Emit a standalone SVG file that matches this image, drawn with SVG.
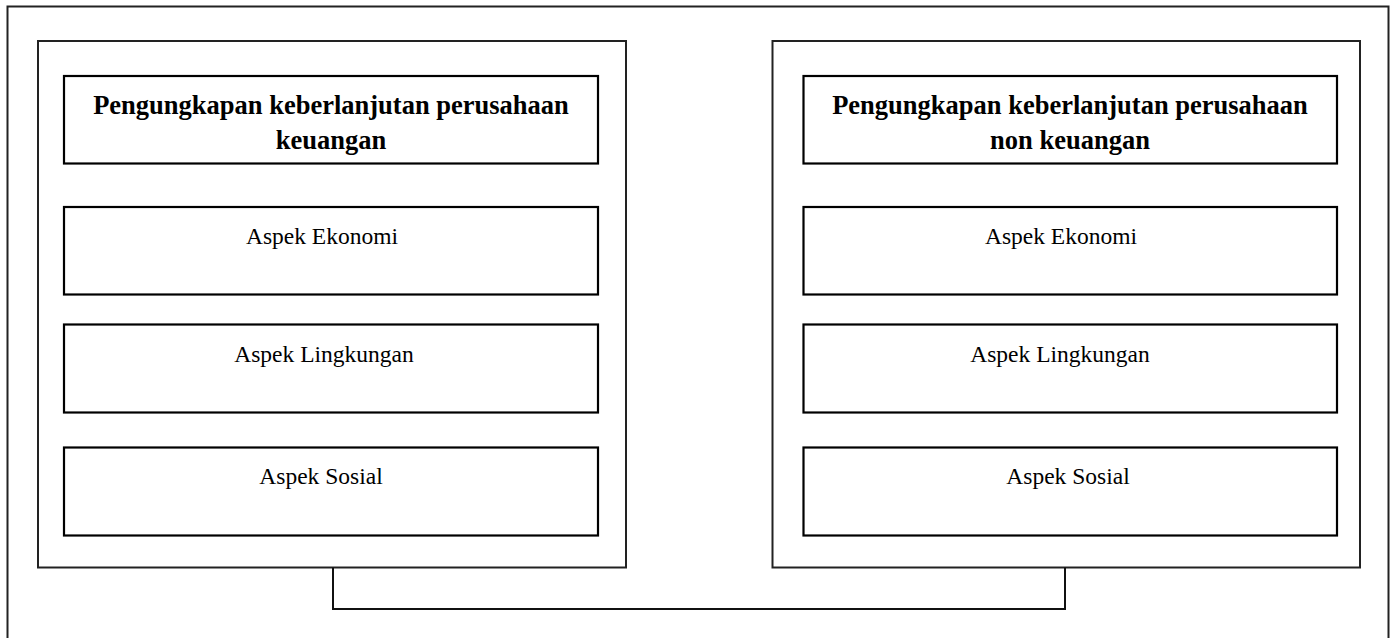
<svg xmlns="http://www.w3.org/2000/svg" width="1392" height="638" viewBox="0 0 1392 638">
<style>
.frame{fill:none;stroke:#222;stroke-width:2}
.box{fill:#fff;stroke:#000;stroke-width:2.2}
.hd{font-family:"Liberation Serif",serif;font-size:26.5px;font-weight:bold;fill:#000;text-anchor:middle}
.tx{font-family:"Liberation Serif",serif;font-size:23.5px;fill:#000;text-anchor:middle}
.conn{fill:none;stroke:#111;stroke-width:2}
</style>
<rect x="0" y="0" width="1392" height="638" fill="#fff"/>
<rect id="outer" class="frame" x="7.5" y="6.5" width="1381" height="640"/>
<g id="panel-left">
<rect class="frame" x="38" y="41" width="588" height="526.5"/>
</g>
<g id="panel-right">
<rect class="frame" x="772.5" y="41" width="587.5" height="526.5"/>
</g>
<g id="left-header">
<rect class="box" x="64" y="76" width="534" height="87.5"/>
<text class="hd" x="331" y="114">Pengungkapan keberlanjutan perusahaan</text>
<text class="hd" x="331" y="149">keuangan</text>
</g>
<g id="left-ekonomi">
<rect class="box" x="64" y="207" width="534" height="87.5"/>
<text class="tx" x="322" y="244">Aspek Ekonomi</text>
</g>
<g id="left-lingkungan">
<rect class="box" x="64" y="324.5" width="534" height="88"/>
<text class="tx" x="324" y="362">Aspek Lingkungan</text>
</g>
<g id="left-sosial">
<rect class="box" x="64" y="447.5" width="534" height="88"/>
<text class="tx" x="321" y="484">Aspek Sosial</text>
</g>
<g id="right-header">
<rect class="box" x="803.5" y="76" width="533.5" height="87.5"/>
<text class="hd" x="1070" y="114">Pengungkapan keberlanjutan perusahaan</text>
<text class="hd" x="1070" y="149">non keuangan</text>
</g>
<g id="right-ekonomi">
<rect class="box" x="803.5" y="207" width="533.5" height="87.5"/>
<text class="tx" x="1061" y="244">Aspek Ekonomi</text>
</g>
<g id="right-lingkungan">
<rect class="box" x="803.5" y="324.5" width="533.5" height="88"/>
<text class="tx" x="1060" y="362">Aspek Lingkungan</text>
</g>
<g id="right-sosial">
<rect class="box" x="803.5" y="447.5" width="533.5" height="88"/>
<text class="tx" x="1068" y="484">Aspek Sosial</text>
</g>
<g id="connectors">
<polyline class="conn" points="333,567.5 333,609 1065,609 1065,567.5"/>
</g>
</svg>
